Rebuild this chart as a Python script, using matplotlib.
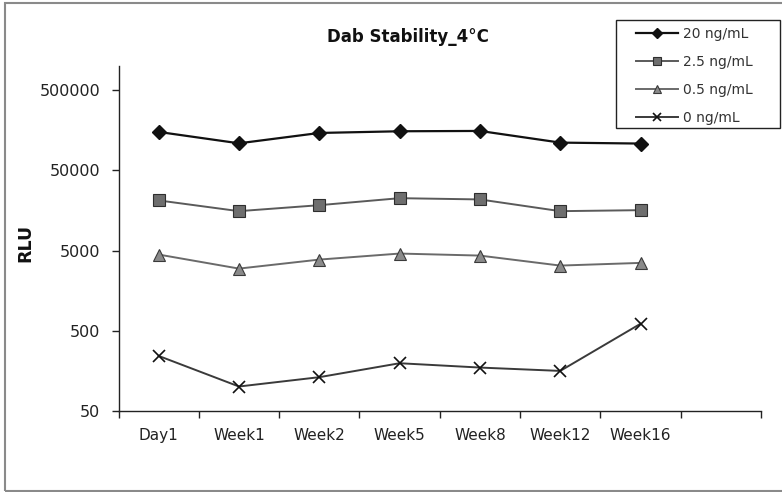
import matplotlib
matplotlib.use("Agg")
import matplotlib.pyplot as plt
from matplotlib.patches import Rectangle
from matplotlib.ticker import FixedLocator, NullFormatter, NullLocator

categories = ["Day1", "Week1", "Week2", "Week5", "Week8", "Week12", "Week16"]
series_labels = ["20 ng/mL", "2.5 ng/mL", "0.5 ng/mL", "0 ng/mL"]
s20 = [150700, 108700, 146300, 153600, 155000, 110900, 107900]
s25 = [21100, 15500, 18400, 22500, 21700, 15500, 15950]
s05 = [4460, 2980, 3860, 4590, 4330, 3250, 3510]
s00 = [243, 101, 132, 197, 174, 158, 612]
yticks = [50, 500, 5000, 50000, 500000]
ytick_labels = ["50", "500", "5000", "50000", "500000"]

plt.rcParams['font.family'] = ['DejaVu Sans']

W, H = 782, 492
fig = plt.figure(figsize=(W / 100, H / 100), dpi=100)
fig.patch.set_facecolor('white')

# figure border
fig.patches.append(Rectangle((4.5 / W, 1.5 / H), 1.0, (H - 4.5) / H,
                             transform=fig.transFigure, fill=False,
                             edgecolor='#8a8a8a', linewidth=1.5, zorder=0))

ax = fig.add_axes([118.5 / W, 1 - 411 / H, (761 - 118.5) / W, (411 - 66) / H])
x = list(range(len(categories)))

styles = [
    dict(color='#111111', lw=1.6, marker='D', ms=7, mfc='#111111', mec='#111111'),
    dict(color='#5a5a5a', lw=1.4, marker='s', ms=8, mfc='#6e6e6e', mec='#2e2e2e', mew=0.8),
    dict(color='#6a6a6a', lw=1.4, marker='^', ms=8, mfc='#8a8a8a', mec='#3a3a3a', mew=0.8),
    dict(color='#3a3a3a', lw=1.4, marker='x', ms=8, mfc='none', mec='#111111', mew=1.2),
]
for data, lab, st in zip([s20, s25, s05, s00], series_labels, styles):
    ax.plot(x, data, label=lab, clip_on=False, **st)

ax.set_yscale('log')
ax.set_ylim(50, 1e6)
ax.set_xlim(-0.5, len(categories) + 0.5)
ax.yaxis.set_major_locator(FixedLocator(yticks))
ax.set_yticklabels(ytick_labels)
ax.yaxis.set_minor_locator(NullLocator())
ax.yaxis.set_minor_formatter(NullFormatter())

ax.set_xticks(x)
ax.set_xticklabels(categories)
ax.set_xticks([i - 0.5 for i in range(len(categories) + 2)], minor=True)
ax.tick_params(axis='x', which='major', length=0, pad=12, labelsize=11, labelcolor='#222222')
ax.tick_params(axis='x', which='minor', length=5, width=1, direction='out', color='#222222')
ax.tick_params(axis='y', which='major', length=5, width=1, direction='out', pad=8,
               labelsize=11.5, labelcolor='#222222', color='#222222')

for side in ['top', 'right']:
    ax.spines[side].set_visible(False)
for side in ['left', 'bottom']:
    ax.spines[side].set_color('#222222')
    ax.spines[side].set_linewidth(1)

fig.text(408 / W, 1 - 37 / H, "Dab Stability_4°C", ha='center', va='center',
         fontsize=12, fontweight='bold', color='#111111')
fig.text(25 / W, 1 - 243 / H, "RLU", rotation=90, ha='center', va='center',
         fontsize=12.5, fontweight='bold', color='#111111')

# legend box
box = Rectangle((615.5 / W, 1 - 128 / H), (780 - 615.5) / W, (128 - 20) / H,
                transform=fig.transFigure, facecolor='white',
                edgecolor='#222222', linewidth=1, zorder=5, clip_on=False)
ax.add_patch(box)
leg = ax.legend(loc='upper left', bbox_to_anchor=(632 / W, 1 - 23 / H),
                bbox_transform=fig.transFigure, fontsize=10, frameon=False,
                handlelength=3.0, handletextpad=0.4, labelspacing=1.0,
                borderpad=0.3, borderaxespad=0, markerscale=0.8)
leg.set_zorder(6)
for t in leg.get_texts():
    t.set_color('#333333')

fig.savefig("out.png", dpi=100)
